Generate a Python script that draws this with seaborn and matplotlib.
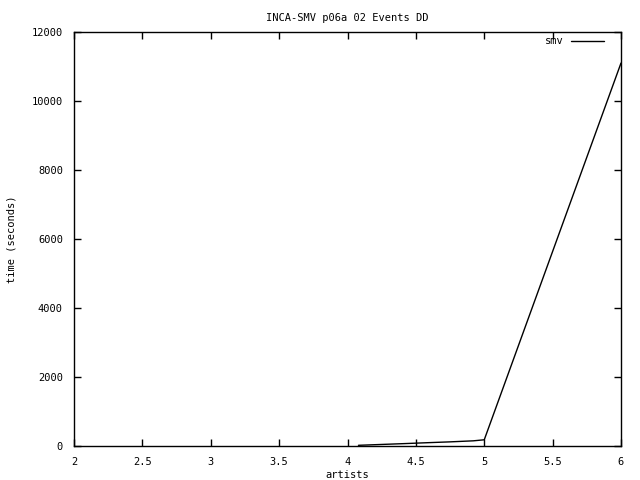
import matplotlib
matplotlib.use("Agg")
import matplotlib.pyplot as plt
import seaborn as sns
import pandas as pd

artists = [4.08, 4.25, 4.42, 4.58, 4.75, 4.92, 5.0, 6.0]
smv_time = [20, 45, 70, 95, 120, 150, 180, 11100]

sns.set_style("ticks")
plt.rcParams['font.family'] = ['DejaVu Sans Mono']
plt.rcParams['font.size'] = 7.5
plt.rcParams['text.color'] = 'black'
plt.rcParams['axes.labelcolor'] = 'black'

df = pd.DataFrame({"artists": artists, "time": smv_time, "series": "smv"})

fig = plt.figure(figsize=(6.4, 4.8), dpi=100)
ax = fig.add_axes([74/640, 1-446/480, (621-74)/640, (446-32)/480])
sns.lineplot(data=df, x="artists", y="time", hue="series", palette=["black"],
             linewidth=1, ax=ax, legend=True)

ax.set_xlim(2, 6)
ax.set_ylim(0, 12000)
ax.set_xticks([2, 2.5, 3, 3.5, 4, 4.5, 5, 5.5, 6])
ax.set_xticklabels(["2", "2.5", "3", "3.5", "4", "4.5", "5", "5.5", "6"])
ax.set_yticks(range(0, 12001, 2000))
ax.set_yticklabels([str(v) for v in range(0, 12001, 2000)])
ax.tick_params(direction="in", length=5, width=1, top=True, right=True, colors="black",
               labelsize=7.5, pad=8)
for s in ax.spines.values():
    s.set_visible(True)
    s.set_color("black")
    s.set_linewidth(1)
ax.set_xlabel("artists", fontsize=7.5, labelpad=2, color="black")
ax.set_ylabel("time (seconds)", fontsize=7.5, labelpad=11, color="black")
ax.set_title("INCA-SMV p06a 02 Events DD", fontsize=7.5, pad=8, color="black")

handles, labels = ax.get_legend_handles_labels()
ax.legend(handles, labels, loc="upper right", bbox_to_anchor=(0.977, 1.0),
          frameon=False, fontsize=7.5, handlelength=3.2, handletextpad=0.7,
          borderaxespad=0.0, markerfirst=False)

fig.savefig("out.png", dpi=100, facecolor="white")
